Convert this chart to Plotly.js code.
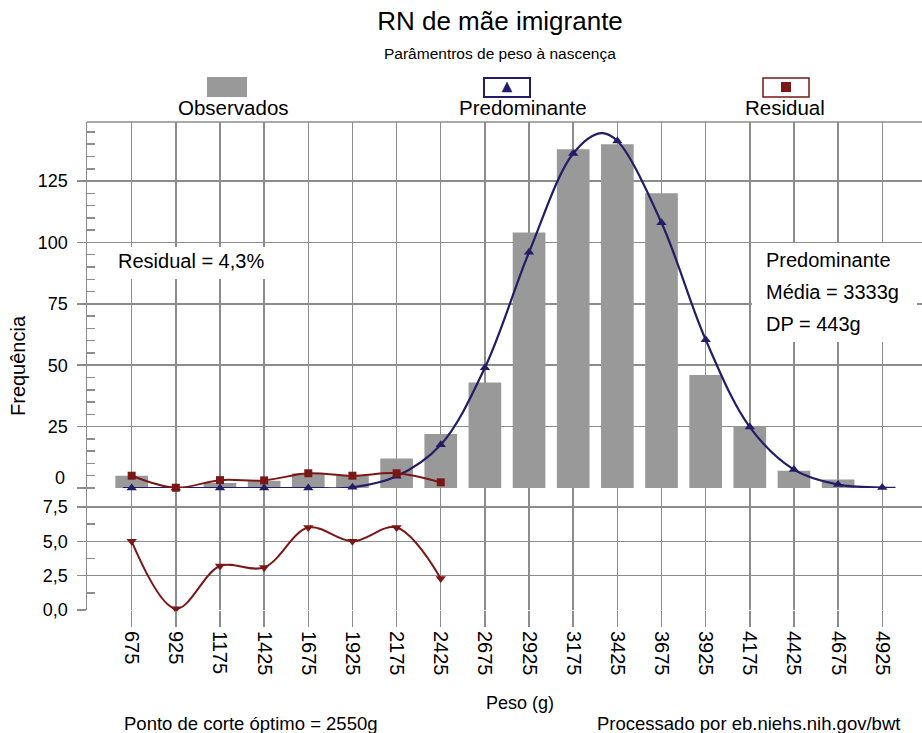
<!DOCTYPE html>
<html>
<head>
<meta charset="utf-8">
<script src="https://cdn.plot.ly/plotly-3.0.1.min.js"></script>
<style>html,body{margin:0;padding:0;background:#fff;}#chart{width:922px;height:733px;}</style>
</head>
<body>
<div id="chart"></div>
<script>
// ---- data ----
var categories = [675, 925, 1175, 1425, 1675, 1925, 2175, 2425, 2675, 2925, 3175, 3425, 3675, 3925, 4175, 4425, 4675, 4925];
var tickLabels = ["675","925","1175","1425","1675","1925","2175","2425","2675","2925","3175","3425","3675","3925","4175","4425","4675","4925"];
var observed = [5, 0, 2, 3, 6, 5, 12, 22, 43, 104, 138, 140, 120, 46, 25, 7, 3.5, 0];
var predominant = [0, 0, 0, 0, 0, 0.3, 4.8, 17.6, 49, 96, 136.2, 141.3, 108, 60.4, 24.8, 7.5, 1.4, 0.2];
// continuous fitted curve (includes its ends and its peak)
var curveX = [625, 675, 925, 1175, 1425, 1675, 1925, 2175, 2425, 2675, 2925, 3175, 3333, 3425, 3675, 3925, 4175, 4425, 4675, 4925, 5000];
var curveY = [0, 0, 0, 0, 0, 0, 0.3, 4.8, 17.6, 49, 96, 136.2, 144.5, 141.3, 108, 60.4, 24.8, 7.5, 1.4, 0.2, 0.1];
var residualX = [675, 925, 1175, 1425, 1675, 1925, 2175, 2425];
var residual = [5.0, 0.1, 3.2, 3.1, 6.0, 5.0, 6.0, 2.3];
var topTicks = [0, 25, 50, 75, 100, 125];
var topTickText = ["", "25", "50", "75", "100", "125"];
var lowTicks = [0, 2.5, 5, 7.5];

var FONT = "Liberation Sans, Arial, Helvetica, sans-serif";
var GRID = "#8c8c8c";
var NAVY = "#221d66";
var RED = "#7b1717";
var BAR = "#999999";

// pixel -> paper helpers (plot area: left 87, right 922, top 122, bottom 610)
function px(x){ return (x - 87) / 835; }
function py(y){ return (610 - y) / 488; }

var traces = [
  {type: "bar", x: categories, y: observed, xaxis: "x", yaxis: "y2", width: 185,
   marker: {color: BAR, line: {width: 0}}, hoverinfo: "x+y", name: "Observados"},
  {type: "scatter", mode: "lines", x: curveX, y: curveY, xaxis: "x", yaxis: "y2", cliponaxis: false,
   line: {color: NAVY, width: 2.2, shape: "spline", smoothing: 1}, name: "Predominante"},
  {type: "scatter", mode: "markers", x: categories, y: predominant, xaxis: "x", yaxis: "y2", cliponaxis: false,
   marker: {symbol: "triangle-up", size: 9, color: NAVY}, name: "Predominante"},
  {type: "scatter", mode: "lines+markers", x: residualX, y: residual, xaxis: "x", yaxis: "y2", cliponaxis: false,
   line: {color: RED, width: 2, shape: "spline", smoothing: 1},
   marker: {symbol: "square", size: 8, color: RED}, name: "Residual"},
  {type: "scatter", mode: "lines+markers", x: residualX, y: residual, xaxis: "x", yaxis: "y", cliponaxis: false,
   line: {color: RED, width: 2, shape: "spline", smoothing: 1},
   marker: {symbol: "triangle-down", size: 9, color: RED}, name: "Residual"}
];

var shapes = [
  // top border
  {type: "line", xref: "paper", yref: "paper", x0: 0, x1: 1, y0: 1, y1: 1, line: {color: GRID, width: 1.5}},
  // annotation boxes
  {type: "rect", xref: "paper", yref: "paper", x0: px(114), x1: px(274), y0: py(279), y1: py(247),
   fillcolor: "#ffffff", line: {width: 0}, layer: "above"},
  {type: "rect", xref: "paper", yref: "paper", x0: px(752), x1: px(917), y0: py(342), y1: py(243),
   fillcolor: "#ffffff", line: {width: 0}, layer: "above"},
  // legend symbols
  {type: "rect", xref: "paper", yref: "paper", x0: px(207), x1: px(247), y0: py(97), y1: py(77),
   fillcolor: BAR, line: {width: 0}},
  {type: "rect", xref: "paper", yref: "paper", x0: px(484), x1: px(530), y0: py(97), y1: py(78),
   fillcolor: "#ffffff", line: {color: NAVY, width: 2}},
  {type: "path", xref: "paper", yref: "paper",
   path: "M " + px(507) + " " + py(82) + " L " + px(512) + " " + py(92) + " L " + px(502) + " " + py(92) + " Z",
   fillcolor: NAVY, line: {color: NAVY, width: 0.5}},
  {type: "rect", xref: "paper", yref: "paper", x0: px(763), x1: px(809), y0: py(97), y1: py(78),
   fillcolor: "#ffffff", line: {color: RED, width: 1.5}},
  {type: "rect", xref: "paper", yref: "paper", x0: px(781), x1: px(791), y0: py(92), y1: py(82),
   fillcolor: RED, line: {width: 0}}
];

function ann(text, x, y, size, xanchor, extra){
  var a = {text: text, xref: "paper", yref: "paper", x: x, y: y, showarrow: false,
           xanchor: xanchor || "center", yanchor: "middle", font: {family: FONT, size: size, color: "#000"}};
  if (extra) for (var k in extra) a[k] = extra[k];
  return a;
}

var annotations = [
  ann("Parâmentros de peso à nascença", px(500), py(54), 15.5),
  ann("Observados", px(233), py(108), 20.5),
  ann("Predominante", px(523), py(108), 20.5),
  ann("Residual", px(785), py(108), 20.5),
  ann("Residual = 4,3%", px(116), py(261), 20, "left"),
  ann("Predominante", px(764), py(260), 20, "left"),
  ann("Média = 3333g", px(764), py(292), 20, "left"),
  ann("DP = 443g", px(764), py(324), 20, "left"),
  ann("Frequência", px(18), py(366), 20, "center", {textangle: -90}),
  ann("0", px(67), py(478), 18, "right"),
  ann("Peso (g)", px(520), py(703), 18),
  ann("Ponto de corte óptimo = 2550g", px(251), py(723), 18.5),
  ann("Processado por eb.niehs.nih.gov/bwt", px(902), py(723), 18.5, "right")
];

var layout = {
  width: 922, height: 733,
  margin: {l: 87, r: 0, t: 122, b: 123, pad: 0},
  paper_bgcolor: "#ffffff", plot_bgcolor: "#ffffff",
  showlegend: false,
  separators: ",.",
  font: {family: FONT, color: "#000"},
  title: {text: "RN de mãe imigrante", font: {family: FONT, size: 26, color: "#000"},
          x: 500 / 922, xref: "container", xanchor: "center", y: 1 - 21 / 733, yref: "container", yanchor: "middle"},
  xaxis: {range: [422, 5150], tickmode: "array", tickvals: categories, ticktext: tickLabels,
          tickangle: 90, tickfont: {family: FONT, size: 20, color: "#000"},
          ticks: "outside", ticklen: 16, tickwidth: 1.5, tickcolor: GRID,
          showgrid: true, gridcolor: GRID, gridwidth: 1.5, zeroline: false, showline: false,
          anchor: "y", fixedrange: true},
  yaxis: {domain: [0, 0.25], range: [0, 8.88], tickmode: "array", tickvals: lowTicks,
          tickformat: ".1f", tickfont: {family: FONT, size: 18, color: "#000"},
          ticks: "outside", ticklen: 9, tickwidth: 1.5, tickcolor: GRID, ticklabelstandoff: 5,
          showgrid: true, gridcolor: GRID, gridwidth: 1.5, zeroline: false,
          showline: true, linecolor: GRID, linewidth: 1.5,
          minor: {tickmode: "array", tickvals: [1.25, 3.75, 6.25], ticks: "inside", ticklen: 8, tickcolor: GRID, tickwidth: 1.5, showgrid: false},
          anchor: "x", fixedrange: true},
  yaxis2: {domain: [0.25, 1], range: [0, 149.05], tickmode: "array", tickvals: topTicks, ticktext: topTickText,
          tickfont: {family: FONT, size: 18, color: "#000"},
          ticks: "outside", ticklen: 9, tickwidth: 1.5, tickcolor: GRID, ticklabelstandoff: 5,
          showgrid: true, gridcolor: GRID, gridwidth: 1.5, zeroline: false,
          showline: true, linecolor: GRID, linewidth: 1.5,
          minor: {dtick: 5, tick0: 0, ticks: "inside", ticklen: 8, tickcolor: GRID, tickwidth: 1.5, showgrid: false},
          anchor: "x", fixedrange: true},
  shapes: shapes,
  annotations: annotations
};

Plotly.newPlot("chart", traces, layout, {displayModeBar: false, staticPlot: true});
</script>
</body>
</html>
